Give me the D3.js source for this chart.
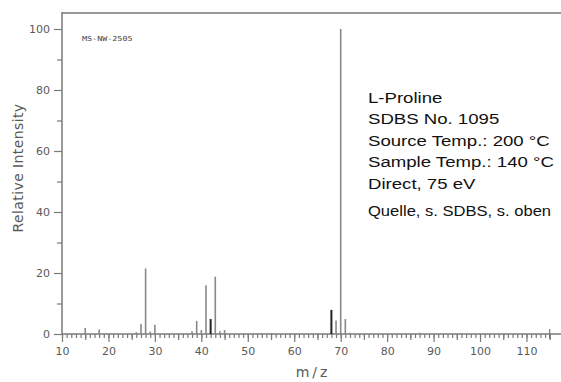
<!DOCTYPE html>
<html><head><meta charset="utf-8">
<script src="https://cdn.jsdelivr.net/npm/d3@7"></script>
<style>
html,body{margin:0;padding:0;background:#fff;}
svg{display:block;}
</style></head>
<body>
<script>
// ---- data ----
const mz =        [15, 18, 26, 27, 28, 29, 30, 38, 39, 40, 41, 42, 43, 44, 45, 53, 55, 68, 69, 70, 71, 72, 87];
const intensity = [2.0, 1.5, 0.6, 3.3, 21.5, 0.8, 3.0, 0.9, 4.3, 1.3, 16.0, 4.9, 18.8, 0.9, 1.3, 0.3, 0.3, 7.9, 4.4, 100, 4.9, 0.4, 0.4];
const darkPeaks = [42, 68];
const xTickLabels = [10, 20, 30, 40, 50, 60, 70, 80, 90, 100, 110];
const yTickLabels = [0, 20, 40, 60, 80, 100];
const infoLines = ["L-Proline", "SDBS No. 1095", "Source Temp.: 200 °C", "Sample Temp.: 140 °C", "Direct, 75 eV"];
const sourceNote = "Quelle, s. SDBS, s. oben";
const specCode = "MS-NW-2505";
const xTitle = "m/z";
const yTitle = "Relative Intensity";

const W = 561, H = 382;
const svg = d3.select("body").append("svg").attr("width", W).attr("height", H);

const x = d3.scaleLinear().domain([10, 115]).range([62, 549.7]);
const y = d3.scaleLinear().domain([0, 100]).range([334, 29]);
const axisColor = "#7a7a7a";
const labelColor = "#5a5a5a";

// frame lines
svg.append("line").attr("x1", 62).attr("x2", W).attr("y1", 13).attr("y2", 13)
  .attr("stroke", "#999").attr("stroke-width", 2);
svg.append("line").attr("x1", 62).attr("x2", 62).attr("y1", 12).attr("y2", y(0))
  .attr("stroke", axisColor).attr("stroke-width", 1.5);
svg.append("line").attr("x1", 62).attr("x2", W).attr("y1", y(0)).attr("y2", y(0))
  .attr("stroke", axisColor).attr("stroke-width", 1.5);

// x axis ticks: minor, mid, major
function styleAxis(g) {
  g.select(".domain").remove();
  g.selectAll(".tick line").attr("stroke", axisColor).attr("stroke-width", 1.2);
  g.selectAll(".tick text").attr("fill", labelColor)
    .style("font-family", "'DejaVu Sans', Verdana, sans-serif").style("font-size", "11px");
}
svg.append("g").attr("transform", `translate(0,${y(0)})`)
  .call(d3.axisBottom(x).tickValues(d3.range(10, 116, 1)).tickSize(4).tickFormat(""))
  .call(styleAxis);
svg.append("g").attr("transform", `translate(0,${y(0)})`)
  .call(d3.axisBottom(x).tickValues(d3.range(15, 116, 10)).tickSize(6).tickFormat(""))
  .call(styleAxis);
svg.append("g").attr("transform", `translate(0,${y(0)})`)
  .call(d3.axisBottom(x).tickValues(xTickLabels).tickSize(8).tickPadding(5))
  .call(styleAxis);
// end tick crossing the baseline
svg.append("line").attr("x1", x(115)).attr("x2", x(115)).attr("y1", y(0) - 5).attr("y2", y(0) + 5)
  .attr("stroke", axisColor).attr("stroke-width", 1.2);

// y axis ticks
svg.append("g").attr("transform", "translate(62,0)")
  .call(d3.axisLeft(y).tickValues(d3.range(10, 100, 20)).tickSize(5).tickFormat(""))
  .call(styleAxis);
svg.append("g").attr("transform", "translate(62,0)")
  .call(d3.axisLeft(y).tickValues(yTickLabels).tickSize(8).tickPadding(4))
  .call(styleAxis);

// peaks
const peaks = mz.map((m, i) => ({ m, v: intensity[i] }));
svg.append("g").selectAll("line").data(peaks).join("line")
  .attr("x1", d => x(d.m)).attr("x2", d => x(d.m))
  .attr("y1", y(0)).attr("y2", d => y(d.v))
  .attr("stroke", d => darkPeaks.includes(d.m) ? "#222" : "#888")
  .attr("stroke-width", d => darkPeaks.includes(d.m) ? 2 : 1.6);

// axis titles
svg.append("text").attr("x", 313).attr("y", 377).attr("text-anchor", "middle")
  .attr("fill", labelColor).style("font-family", "'DejaVu Sans', Verdana, sans-serif")
  .style("font-size", "14px").style("letter-spacing", "3px").text(xTitle);
svg.append("text").attr("transform", "translate(23,168) rotate(-90)").attr("text-anchor", "middle")
  .attr("fill", labelColor).style("font-family", "'DejaVu Sans', Verdana, sans-serif")
  .style("font-size", "14px").style("letter-spacing", "0.4px").text(yTitle);

// spectrum code
svg.append("text").attr("transform", "translate(82,41) scale(1.2,1)")
  .attr("fill", "#444").style("font-family", "'DejaVu Sans Mono', monospace")
  .style("font-size", "7px").text(specCode);

// info block
const info = svg.append("g").attr("transform", "translate(368,0) scale(1.2,1)");
info.selectAll("text.info").data(infoLines).join("text").attr("class", "info")
  .attr("x", 0).attr("y", (d, i) => 103 + i * 21.5)
  .attr("fill", "#111").style("font-family", "'Liberation Sans', Arial, sans-serif")
  .style("font-size", "15.5px").text(d => d);
info.append("text").attr("x", 0).attr("y", 216)
  .attr("fill", "#111").style("font-family", "'Liberation Sans', Arial, sans-serif")
  .style("font-size", "13.8px").text(sourceNote);
</script>
</body></html>
